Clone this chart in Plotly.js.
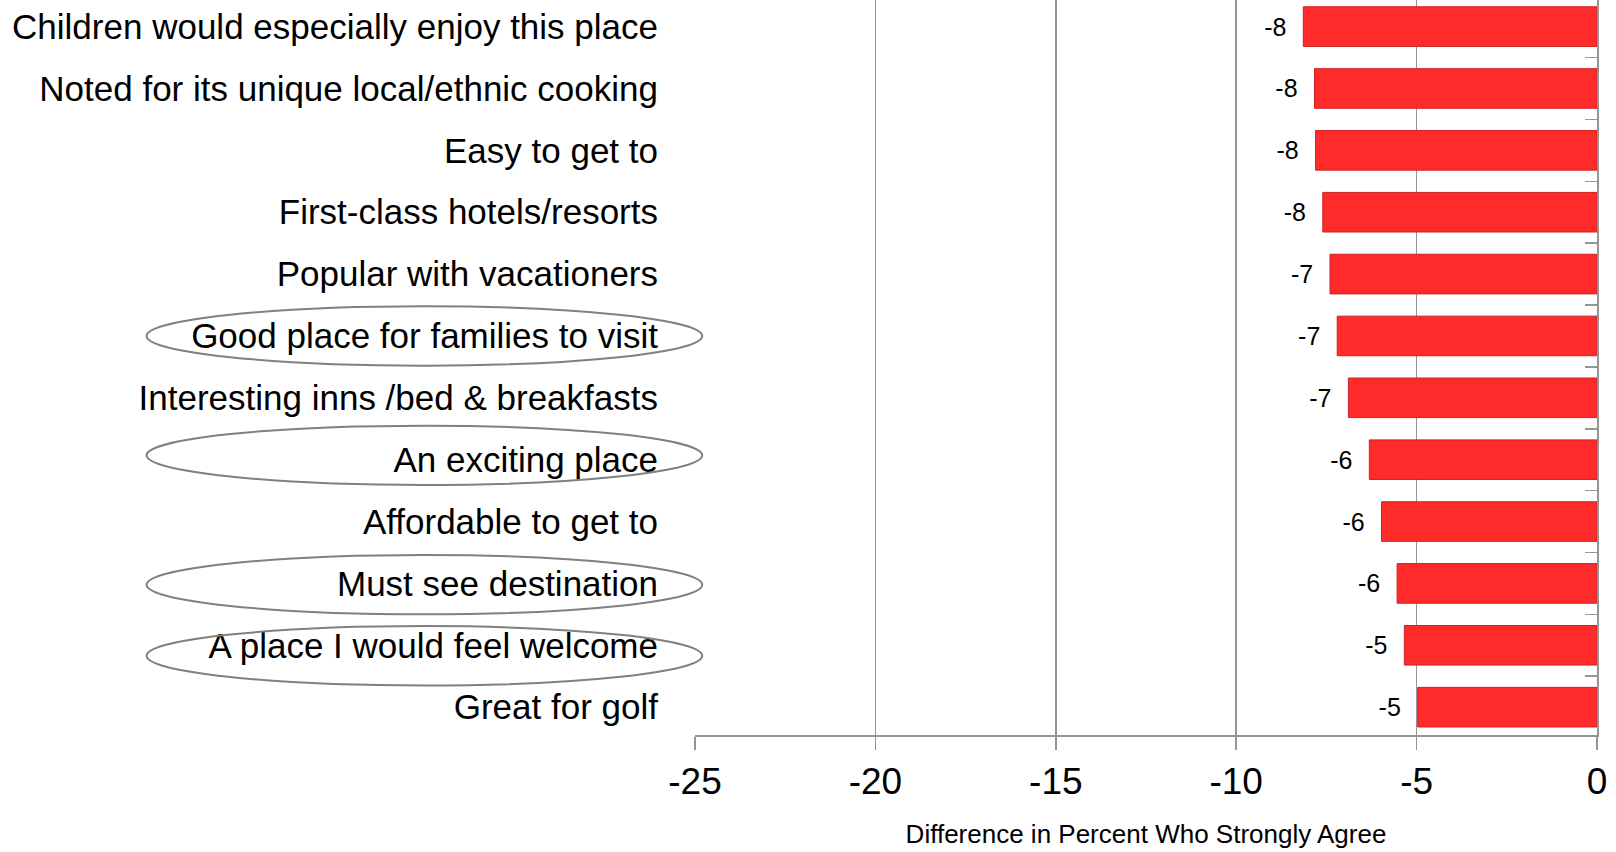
<!DOCTYPE html>
<html>
<head>
<meta charset="utf-8">
<script src="https://cdn.plot.ly/plotly-3.0.1.min.js"></script>
<style>html,body{margin:0;padding:0;background:#fff;}#chart{width:1616px;height:852px;}</style>
</head>
<body>
<div id="chart"></div>
<script>
const categories = [
  "Children would especially enjoy this place",
  "Noted for its unique local/ethnic cooking",
  "Easy to get to",
  "First-class hotels/resorts",
  "Popular with vacationers",
  "Good place for families to visit",
  "Interesting inns /bed & breakfasts",
  "An exciting place",
  "Affordable to get to",
  "Must see destination",
  "A place I would feel welcome",
  "Great for golf"
];
const differences = [-8.14, -7.83, -7.8, -7.6, -7.4, -7.2, -6.89, -6.31, -5.97, -5.54, -5.34, -4.97];
const circledCategories = [
  "Good place for families to visit",
  "An exciting place",
  "Must see destination",
  "A place I would feel welcome"
];
const xTicks = [-25, -20, -15, -10, -5, 0];
const xTitle = "Difference in Percent Who Strongly Agree";

const narrow = '"Liberation Sans Narrow", "Arial Narrow", "Liberation Sans", Arial, sans-serif';
const gray = '#959595';

const shapes = circledCategories.map(function (c) {
  const i = categories.indexOf(c);
  const off = {5: 0.0, 7: -0.07, 9: 0.02, 10: 0.17}[i] || 0;
  return {
    type: 'circle', xref: 'paper', yref: 'y',
    x0: -0.608, x1: 0.008,
    y0: i + off - 0.48, y1: i + off + 0.48,
    line: {color: '#808080', width: 2}
  };
});

const traces = [
  {
    type: 'bar', orientation: 'h',
    x: differences, y: categories,
    width: 0.64,
    marker: {color: '#ff2b2b', line: {color: '#cc2222', width: 1}},
    texttemplate: '%{x:.0f}\u00a0\u00a0',
    textposition: 'outside',
    textfont: {family: '"Liberation Sans", Arial, sans-serif', size: 25, color: '#000'},
    cliponaxis: false,
    hoverinfo: 'x+y', showlegend: false
  },
  {
    type: 'scatter', mode: 'none',
    x: differences, y: categories, yaxis: 'y2',
    hoverinfo: 'skip', showlegend: false
  }
];

const layout = {
  width: 1616, height: 852,
  margin: {l: 695, r: 19, t: 0, b: 117},
  paper_bgcolor: '#fff', plot_bgcolor: '#fff',
  showlegend: false,
  bargap: 0.36,
  xaxis: {
    range: [-25, 0], tickvals: xTicks, ticktext: xTicks.map(String),
    showgrid: true, gridcolor: gray, gridwidth: 1.5,
    zeroline: false, showline: true, linecolor: gray, linewidth: 1.5,
    ticks: 'outside', ticklen: 13, tickcolor: gray, tickwidth: 1.5,
    tickfont: {family: narrow, size: 37, color: '#000'},
    title: {text: xTitle, font: {family: narrow, size: 26, color: '#000'}, standoff: 24}
  },
  yaxis: {
    type: 'category', categoryorder: 'array', categoryarray: categories,
    range: [11.45, -0.43],
    showgrid: false, zeroline: false, showline: false, ticks: '',
    ticklabelstandoff: 36,
    tickfont: {family: narrow, size: 35, color: '#000'}
  },
  yaxis2: {
    type: 'category', categoryorder: 'array', categoryarray: categories,
    range: [11.45, -0.43],
    overlaying: 'y', side: 'right', anchor: 'x',
    showgrid: false, zeroline: false,
    showline: true, linecolor: gray, linewidth: 1.5,
    ticks: 'inside', tickson: 'boundaries', ticklen: 12, tickcolor: gray, tickwidth: 1.5,
    showticklabels: false
  },
  shapes: shapes
};

Plotly.newPlot('chart', traces, layout, {displayModeBar: false, staticPlot: true});
</script>
</body>
</html>
